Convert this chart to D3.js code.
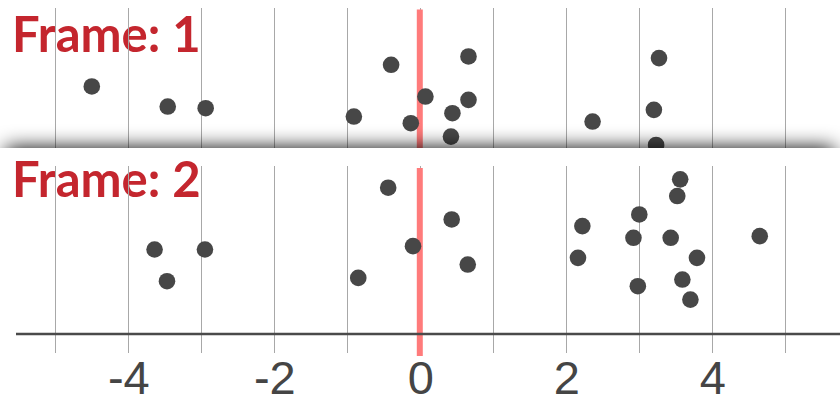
<!DOCTYPE html>
<html><head><meta charset="utf-8">
<script src="https://cdn.jsdelivr.net/npm/d3@7"></script>
<style>html,body{margin:0;padding:0;background:#fff;overflow:hidden;} svg{display:block;}</style>
</head><body>
<script>
// ---- data ----
const frameTitles = ["Frame: 1", "Frame: 2"];
const frame1Values = [-4.50, -3.46, -2.94, -0.91, -0.40, -0.13, 0.07, 0.66, 0.66, 0.44, 0.42, 2.36, 3.27, 3.20, 3.23];
const frame1Jitter = [0.47, 0.59, 0.60, 0.65, 0.34, 0.69, 0.53, 0.29, 0.55, 0.63, 0.77, 0.68, 0.30, 0.61, 0.82];
const frame2Values = [-0.44, -3.64, -2.95, -3.47, -0.85, -0.10, 0.43, 0.65, 2.22, 2.16, 3.00, 2.92, 2.98, 3.56, 3.52, 3.43, 3.79, 3.59, 3.70, 4.65];
const frame2Jitter = [0.13, 0.50, 0.50, 0.69, 0.67, 0.48, 0.32, 0.59, 0.36, 0.55, 0.29, 0.43, 0.72, 0.08, 0.18, 0.43, 0.55, 0.68, 0.80, 0.42];
const gridTicks = [-5, -4, -3, -2, -1, 0, 1, 2, 3, 4, 5];
const labelTicks = [-4, -2, 0, 2, 4];
const referenceValue = 0;

// ---- layout ----
const W = 840, H = 400;
const x = d3.scaleLinear().domain([-5, 5]).range([55.3, 785.3]);
const panels = [
  {title: frameTitles[0], xs: frame1Values, ys: frame1Jitter, top: 8, clipTop: 0, clipBottom: 148, titleBase: 51.5, lineTop: 9.5, gridBottom: 148, lineBottom: 148},
  {title: frameTitles[1], xs: frame2Values, ys: frame2Jitter, top: 166, clipTop: 148, clipBottom: 400, titleBase: 196.5, lineTop: 168, gridBottom: 353, lineBottom: 356}
];
const axisY = 334;

const svg = d3.select("body").append("svg").attr("width", W).attr("height", H);
svg.append("rect").attr("width", W).attr("height", H).attr("fill", "#fff");
const defs = svg.append("defs");
defs.append("filter").attr("id", "blur").attr("x", "-20%").attr("y", "-200%").attr("width", "140%").attr("height", "500%")
  .append("feGaussianBlur").attr("stdDeviation", 10);

panels.forEach((p, i) => {
  const clipId = "clip" + i;
  defs.append("clipPath").attr("id", clipId).append("rect")
    .attr("x", 0).attr("y", p.clipTop).attr("width", W).attr("height", p.clipBottom - p.clipTop);

  if (i > 0) {
    // shadow cast by the upper edge of this frame
    svg.append("rect").attr("x", 6).attr("y", p.clipTop).attr("width", W - 12).attr("height", 40)
      .attr("fill", "#000").attr("opacity", 1).attr("filter", "url(#blur)");
    svg.append("rect").attr("x", 0).attr("y", p.clipTop).attr("width", W).attr("height", H - p.clipTop).attr("fill", "#fff");
  }

  const g = svg.append("g").attr("clip-path", `url(#${clipId})`);
  const y = d3.scaleLinear().domain([0, 1]).range([p.top, p.top + 167]);

  g.append("text").attr("x", 12).attr("y", p.titleBase)
    .attr("font-family", "Lato, 'Open Sans', sans-serif").attr("font-weight", 700)
    .attr("font-size", 49).attr("fill", "#c4262e").text(p.title);

  g.selectAll("line.grid").data(gridTicks).join("line").attr("class", "grid")
    .attr("x1", d => x(d)).attr("x2", d => x(d))
    .attr("y1", p.top).attr("y2", p.gridBottom)
    .attr("stroke", "#a8a8a8").attr("stroke-width", 1).attr("shape-rendering", "crispEdges");

  g.append("line").attr("x1", x(referenceValue) - 0.5).attr("x2", x(referenceValue) - 0.5)
    .attr("y1", p.lineTop).attr("y2", p.lineBottom)
    .attr("stroke", "#ff7b7b").attr("stroke-width", 6);

  g.selectAll("circle").data(p.xs).join("circle")
    .attr("cx", d => x(d)).attr("cy", (d, k) => y(p.ys[k]))
    .attr("r", 8.3).attr("fill", "#474747");

  if (i === panels.length - 1) {
    g.append("line").attr("x1", 16).attr("x2", W).attr("y1", axisY).attr("y2", axisY)
      .attr("stroke", "#4a4a4a").attr("stroke-width", 2.6);
    const axis = d3.axisBottom(x).tickValues(labelTicks).tickSize(0).tickPadding(0)
      .tickFormat(d => String(d));
    const ag = g.append("g").attr("transform", `translate(0,${axisY})`).call(axis);
    ag.select(".domain").remove();
    ag.selectAll("text").attr("y", 60).attr("dy", 0)
      .attr("font-family", "'Liberation Sans', Arial, sans-serif").attr("font-size", 47)
      .attr("fill", "#454545");
  }
});
</script>
</body></html>
